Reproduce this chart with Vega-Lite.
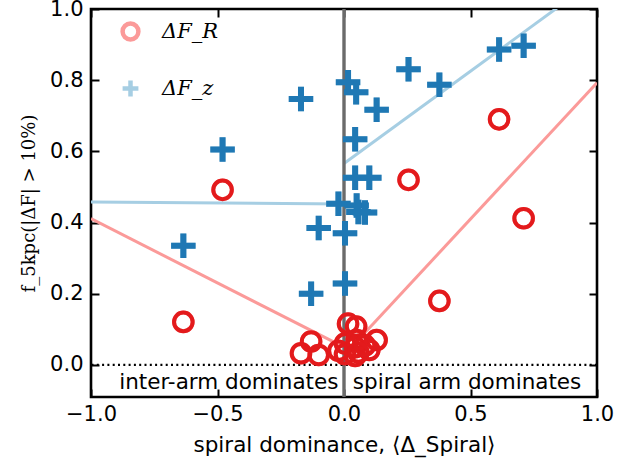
{
  "$schema": "https://vega.github.io/schema/vega-lite/v6.json",
  "width": 506,
  "height": 388,
  "autosize": {"type": "none"},
  "padding": {"left": 91, "top": 9, "right": 47, "bottom": 72},
  "background": "white",
  "config": {
    "view": {"stroke": "black", "strokeWidth": 2.6},
    "axis": {
      "domain": false,
      "grid": false,
      "offset": -8,
      "tickColor": "black",
      "tickWidth": 2,
      "tickSize": 8,
      "labelFlush": false,
      "labelOverlap": false,
      "labelFont": "DejaVu Sans",
      "labelFontSize": 21,
      "labelColor": "black",
      "titleColor": "black",
      "titleFontWeight": "normal"
    },
    "legend": {
      "orient": "top-left",
      "offset": 12,
      "padding": 0,
      "symbolOffset": 17,
      "labelOffset": 21,
      "rowPadding": 22,
      "labelFont": "DejaVu Serif",
      "labelFontStyle": "italic",
      "labelFontSize": 21,
      "labelColor": "black",
      "symbolSize": 250,
      "symbolStrokeWidth": 4.5
    }
  },
  "datasets": {
    "galaxies": [
      {"series": "ΔF_R", "x": -0.635, "y": 0.121},
      {"series": "ΔF_R", "x": -0.48, "y": 0.492},
      {"series": "ΔF_R", "x": -0.17, "y": 0.033},
      {"series": "ΔF_R", "x": -0.13, "y": 0.066},
      {"series": "ΔF_R", "x": -0.1, "y": 0.028},
      {"series": "ΔF_R", "x": -0.022, "y": 0.04},
      {"series": "ΔF_R", "x": 0.004, "y": 0.06},
      {"series": "ΔF_R", "x": 0.004, "y": 0.03},
      {"series": "ΔF_R", "x": 0.016, "y": 0.116},
      {"series": "ΔF_R", "x": 0.048, "y": 0.108},
      {"series": "ΔF_R", "x": 0.129, "y": 0.07},
      {"series": "ΔF_R", "x": 0.044, "y": 0.05},
      {"series": "ΔF_R", "x": 0.044, "y": 0.025},
      {"series": "ΔF_R", "x": 0.1, "y": 0.042},
      {"series": "ΔF_R", "x": 0.05, "y": 0.07},
      {"series": "ΔF_R", "x": 0.057, "y": 0.035},
      {"series": "ΔF_R", "x": 0.083, "y": 0.055},
      {"series": "ΔF_R", "x": 0.255, "y": 0.52},
      {"series": "ΔF_R", "x": 0.377, "y": 0.18},
      {"series": "ΔF_R", "x": 0.613, "y": 0.69},
      {"series": "ΔF_R", "x": 0.71, "y": 0.412},
      {"series": "ΔF_z", "x": -0.635, "y": 0.335},
      {"series": "ΔF_z", "x": -0.48, "y": 0.605},
      {"series": "ΔF_z", "x": -0.17, "y": 0.747},
      {"series": "ΔF_z", "x": -0.13, "y": 0.2},
      {"series": "ΔF_z", "x": -0.1, "y": 0.385},
      {"series": "ΔF_z", "x": -0.022, "y": 0.453},
      {"series": "ΔF_z", "x": 0.004, "y": 0.229},
      {"series": "ΔF_z", "x": 0.004, "y": 0.37},
      {"series": "ΔF_z", "x": 0.016, "y": 0.794},
      {"series": "ΔF_z", "x": 0.048, "y": 0.766},
      {"series": "ΔF_z", "x": 0.129, "y": 0.717},
      {"series": "ΔF_z", "x": 0.044, "y": 0.634},
      {"series": "ΔF_z", "x": 0.044, "y": 0.526},
      {"series": "ΔF_z", "x": 0.1, "y": 0.526},
      {"series": "ΔF_z", "x": 0.05, "y": 0.448},
      {"series": "ΔF_z", "x": 0.057, "y": 0.43},
      {"series": "ΔF_z", "x": 0.083, "y": 0.428},
      {"series": "ΔF_z", "x": 0.255, "y": 0.831},
      {"series": "ΔF_z", "x": 0.377, "y": 0.787},
      {"series": "ΔF_z", "x": 0.613, "y": 0.886},
      {"series": "ΔF_z", "x": 0.71, "y": 0.897}
    ],
    "fits": [
      {"series": "ΔF_R", "side": "inter-arm", "x": -1, "y": 0.411},
      {"series": "ΔF_R", "side": "inter-arm", "x": 0, "y": 0.05},
      {"series": "ΔF_R", "side": "spiral", "x": 0, "y": 0.027},
      {"series": "ΔF_R", "side": "spiral", "x": 1, "y": 0.793},
      {"series": "ΔF_z", "side": "inter-arm", "x": -1, "y": 0.458},
      {"series": "ΔF_z", "side": "inter-arm", "x": 0, "y": 0.452},
      {"series": "ΔF_z", "side": "spiral", "x": 0, "y": 0.566},
      {"series": "ΔF_z", "side": "spiral", "x": 1, "y": 1.085}
    ],
    "zero": [{"level": 0}]
  },
  "layer": [
    {
      "data": {"name": "galaxies"},
      "transform": [{"filter": "datum.series === 'ΔF_R'"}],
      "mark": {"type": "point", "filled": false, "opacity": 1, "size": 346, "strokeWidth": 4},
      "encoding": {
        "x": {"field": "x", "type": "quantitative", "scale": {"domain": [-1, 1], "nice": false, "zero": false}, "axis": null},
        "y": {"field": "y", "type": "quantitative", "scale": {"domain": [-0.09, 1], "nice": false, "zero": false}, "axis": null},
        "shape": {"field": "series", "type": "nominal",
                  "scale": {"domain": ["ΔF_R", "ΔF_z"], "range": ["circle", "M-1,0L1,0M0,-1L0,1"]},
                  "legend": {"title": null}},
        "color": {"field": "series", "type": "nominal",
                  "scale": {"domain": ["ΔF_R", "ΔF_z"], "range": ["#fb9a99", "#a6cee3"]},
                  "legend": {"title": null}}
      }
    },
    {
      "data": {"name": "galaxies"},
      "transform": [{"filter": "datum.series === 'ΔF_z'"}],
      "mark": {"type": "point", "filled": false, "opacity": 1, "size": 600, "strokeWidth": 6},
      "encoding": {
        "x": {"field": "x", "type": "quantitative", "scale": {"domain": [-1, 1], "nice": false, "zero": false}, "axis": null},
        "y": {"field": "y", "type": "quantitative", "scale": {"domain": [-0.09, 1], "nice": false, "zero": false}, "axis": null},
        "shape": {"field": "series", "type": "nominal",
                  "scale": {"domain": ["ΔF_R", "ΔF_z"], "range": ["circle", "M-1,0L1,0M0,-1L0,1"]},
                  "legend": {"title": null}},
        "color": {"field": "series", "type": "nominal",
                  "scale": {"domain": ["ΔF_R", "ΔF_z"], "range": ["#fb9a99", "#a6cee3"]},
                  "legend": {"title": null}}
      }
    },
    {
      "data": {"name": "fits"},
      "transform": [{"filter": "datum.series === 'ΔF_R'"}],
      "mark": {"type": "line", "color": "#fb9a99", "strokeWidth": 3, "clip": true},
      "encoding": {
        "x": {"field": "x", "type": "quantitative", "scale": {"domain": [-1, 1], "nice": false, "zero": false}, "axis": null},
        "y": {"field": "y", "type": "quantitative", "scale": {"domain": [-0.09, 1], "nice": false, "zero": false}, "axis": null},
        "detail": {"field": "side", "type": "nominal"}
      }
    },
    {
      "data": {"name": "fits"},
      "transform": [{"filter": "datum.series === 'ΔF_z'"}],
      "mark": {"type": "line", "color": "#a6cee3", "strokeWidth": 3, "clip": true},
      "encoding": {
        "x": {"field": "x", "type": "quantitative", "scale": {"domain": [-1, 1], "nice": false, "zero": false}, "axis": null},
        "y": {"field": "y", "type": "quantitative", "scale": {"domain": [-0.09, 1], "nice": false, "zero": false}, "axis": null},
        "detail": {"field": "side", "type": "nominal"}
      }
    },
    {
      "data": {"values": [{}]},
      "mark": {"type": "rule", "color": "#6b6b6b", "strokeWidth": 3.4},
      "encoding": {
        "x": {"datum": 0, "type": "quantitative", "scale": {"domain": [-1, 1], "nice": false, "zero": false},
              "axis": {"orient": "top", "labels": false, "title": null, "values": [-1, -0.5, 0, 0.5, 1]}}
      }
    },
    {
      "data": {"name": "zero"},
      "mark": {"type": "rule", "color": "black", "strokeWidth": 2.2, "strokeDash": [2, 3.3]},
      "encoding": {
        "y": {"field": "level", "type": "quantitative", "scale": {"domain": [-0.09, 1], "nice": false, "zero": false},
              "axis": {"orient": "right", "labels": false, "title": null, "values": [0, 0.2, 0.4, 0.6, 0.8, 1]}}
      }
    },
    {
      "data": {"values": [{}]},
      "mark": {"type": "text", "text": "inter-arm dominates", "align": "right", "baseline": "alphabetic", "font": "DejaVu Sans", "fontSize": 21.5, "color": "black"},
      "encoding": {
        "x": {"datum": -0.022, "type": "quantitative", "scale": {"domain": [-1, 1], "nice": false, "zero": false}, "axis": null},
        "y": {"datum": -0.067, "type": "quantitative", "scale": {"domain": [-0.09, 1], "nice": false, "zero": false}, "axis": null}
      }
    },
    {
      "data": {"values": [{}]},
      "mark": {"type": "text", "text": "spiral arm dominates", "align": "left", "baseline": "alphabetic", "font": "DejaVu Sans", "fontSize": 21.5, "color": "black"},
      "encoding": {
        "x": {"datum": 0.035, "type": "quantitative", "scale": {"domain": [-1, 1], "nice": false, "zero": false}, "axis": null},
        "y": {"datum": -0.067, "type": "quantitative", "scale": {"domain": [-0.09, 1], "nice": false, "zero": false}, "axis": null}
      }
    },
    {
      "data": {"name": "galaxies"},
      "transform": [{"filter": "datum.series === 'ΔF_z'"}],
      "mark": {"type": "point", "filled": false, "opacity": 1, "size": 600, "strokeWidth": 6,
               "shape": "M-1,0L1,0M0,-1L0,1", "stroke": "#1f78b4"},
      "encoding": {
        "x": {"field": "x", "type": "quantitative", "scale": {"domain": [-1, 1], "nice": false, "zero": false}, "axis": null},
        "y": {"field": "y", "type": "quantitative", "scale": {"domain": [-0.09, 1], "nice": false, "zero": false}, "axis": null}
      }
    },
    {
      "data": {"name": "galaxies"},
      "transform": [{"filter": "datum.series === 'ΔF_R'"}],
      "mark": {"type": "point", "filled": false, "opacity": 1, "size": 346, "strokeWidth": 4,
               "shape": "circle", "stroke": "#e31a1c"},
      "encoding": {
        "x": {"field": "x", "type": "quantitative", "scale": {"domain": [-1, 1], "nice": false, "zero": false},
              "axis": {"orient": "bottom", "values": [-1, -0.5, 0, 0.5, 1], "format": ".1f", "labelPadding": 6,
                       "title": "spiral dominance, ⟨Δ_Spiral⟩", "titleFont": "DejaVu Sans", "titleFontSize": 21.5, "titlePadding": 10}},
        "y": {"field": "y", "type": "quantitative", "scale": {"domain": [-0.09, 1], "nice": false, "zero": false},
              "axis": {"orient": "left", "values": [0, 0.2, 0.4, 0.6, 0.8, 1], "format": ".1f", "labelPadding": 8,
                       "title": "f_5kpc(|ΔF| > 10%)", "titleFont": "DejaVu Serif", "titleFontSize": 18, "titlePadding": 11}}
      }
    }
  ],
  "resolve": {"axis": {"x": "independent", "y": "independent"}}
}
